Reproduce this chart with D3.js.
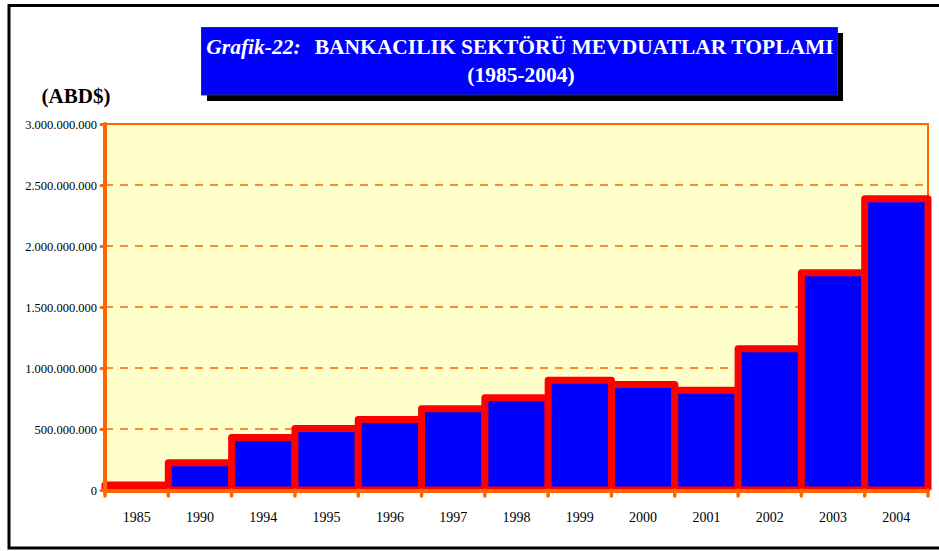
<!DOCTYPE html>
<html>
<head>
<meta charset="utf-8">
<script src="https://cdn.jsdelivr.net/npm/d3@7"></script>
<style>
  body { margin: 0; background: #fff; }
  svg { display: block; font-family: "Liberation Serif", "Times New Roman", serif; }
</style>
</head>
<body>
<div id="app"></div>
<script>
const years = ["1985", "1990", "1994", "1995", "1996", "1997", "1998", "1999", "2000", "2001", "2002", "2003", "2004"];
const deposits = [40e6, 223e6, 430e6, 504e6, 578e6, 666e6, 756e6, 900e6, 865e6, 818e6, 1157e6, 1780e6, 2387e6];
const yTicks = [0, 5e8, 1e9, 1.5e9, 2e9, 2.5e9, 3e9];

const full = { width: 939, height: 551 };
const plot = { left: 105, top: 124, right: 928, bottom: 490 };

const svg = d3.select("#app")
  .append("svg")
  .attr("width", full.width)
  .attr("height", full.height);

// outer frame
svg.append("rect")
  .attr("x", 9).attr("y", 5.5)
  .attr("width", 940).attr("height", 542.5)
  .attr("fill", "none")
  .attr("stroke", "#000")
  .attr("stroke-width", 3);

// title box with shadow
svg.append("rect")
  .attr("x", 207).attr("y", 33)
  .attr("width", 636).attr("height", 68)
  .attr("fill", "#000");
svg.append("rect")
  .attr("x", 201.5).attr("y", 27.5)
  .attr("width", 636).attr("height", 67.5)
  .attr("fill", "#0000FF")
  .attr("stroke", "#333")
  .attr("stroke-width", 1);

const title = svg.append("text")
  .attr("x", 520).attr("y", 54)
  .attr("text-anchor", "middle")
  .attr("fill", "#fff")
  .attr("font-size", 21.5)
  .attr("font-weight", "bold");
title.append("tspan").attr("font-style", "italic").text("Grafik-22:");
title.append("tspan").attr("dx", 14).text("BANKACILIK SEKTÖRÜ MEVDUATLAR TOPLAMI");

svg.append("text")
  .attr("x", 521).attr("y", 82)
  .attr("text-anchor", "middle")
  .attr("fill", "#fff")
  .attr("font-size", 21.5)
  .attr("font-weight", "bold")
  .text("(1985-2004)");

svg.append("text")
  .attr("x", 76).attr("y", 103)
  .attr("text-anchor", "middle")
  .attr("font-size", 21)
  .attr("font-weight", "bold")
  .text("(ABD$)");

const x = d3.scaleBand()
  .domain(years)
  .range([plot.left, plot.right])
  .padding(0);

const y = d3.scaleLinear()
  .domain([0, 3e9])
  .range([plot.bottom, plot.top]);

// plot background
svg.append("rect")
  .attr("x", plot.left).attr("y", plot.top)
  .attr("width", plot.right - plot.left)
  .attr("height", plot.bottom - plot.top)
  .attr("fill", "#FFFFCC");

// grid
svg.append("g")
  .selectAll("line")
  .data(yTicks.filter(d => d > 0 && d < 3e9))
  .join("line")
  .attr("x1", plot.left).attr("x2", plot.right)
  .attr("y1", d => y(d)).attr("y2", d => y(d))
  .attr("stroke", "#FF6600")
  .attr("stroke-width", 1.3)
  .attr("stroke-dasharray", "8,7");

// top and right border
svg.append("path")
  .attr("d", `M${plot.left},${plot.top}H${plot.right}V${plot.bottom}`)
  .attr("fill", "none")
  .attr("stroke", "#FF6600")
  .attr("stroke-width", 2);

// bars
svg.append("defs").append("clipPath").attr("id", "clip")
  .append("rect")
  .attr("x", 0).attr("y", 0)
  .attr("width", full.width).attr("height", plot.bottom);

svg.append("g")
  .attr("clip-path", "url(#clip)")
  .selectAll("rect")
  .data(years.map((yr, i) => ({ yr, v: deposits[i] })))
  .join("rect")
  .attr("x", d => x(d.yr))
  .attr("y", d => y(d.v))
  .attr("width", x.bandwidth())
  .attr("height", d => plot.bottom - y(d.v))
  .attr("fill", "#0000FF")
  .attr("stroke", "#FF0000")
  .attr("stroke-width", 7)
  .attr("stroke-linejoin", "round");

// y axis
const yAxis = svg.append("g")
  .attr("transform", `translate(${plot.left},0)`)
  .call(d3.axisLeft(y).tickValues(yTicks)
    .tickFormat(d => d3.format(",")(d).replace(/,/g, "."))
    .tickSize(4).tickPadding(4));
yAxis.select(".domain").remove();
yAxis.selectAll(".tick line")
  .attr("stroke", "#FF6600").attr("stroke-width", 3).attr("stroke-linecap", "round");
yAxis.selectAll(".tick text")
  .attr("font-family", "Liberation Serif, serif")
  .attr("font-size", 12.5)
  .attr("fill", "#000");

svg.append("line")
  .attr("x1", plot.left).attr("x2", plot.left)
  .attr("y1", plot.top).attr("y2", plot.bottom + 2)
  .attr("stroke", "#FF6600")
  .attr("stroke-width", 4)
  .attr("stroke-linecap", "round");

// x axis
const bounds = years.map(yr => x(yr)).concat([plot.right]);
svg.append("g")
  .selectAll("line")
  .data(bounds)
  .join("line")
  .attr("x1", d => d).attr("x2", d => d)
  .attr("y1", plot.bottom).attr("y2", plot.bottom + 6)
  .attr("stroke", "#FF6600")
  .attr("stroke-width", 3.5)
  .attr("stroke-linecap", "round");

svg.append("line")
  .attr("x1", plot.left).attr("x2", plot.right)
  .attr("y1", plot.bottom + 1).attr("y2", plot.bottom + 1)
  .attr("stroke", "#FF6600")
  .attr("stroke-width", 4)
  .attr("stroke-linecap", "round");

svg.append("g")
  .selectAll("text")
  .data(years)
  .join("text")
  .attr("x", d => x(d) + x.bandwidth() / 2)
  .attr("y", 522)
  .attr("text-anchor", "middle")
  .attr("font-size", 14)
  .text(d => d);
</script>
</body>
</html>
